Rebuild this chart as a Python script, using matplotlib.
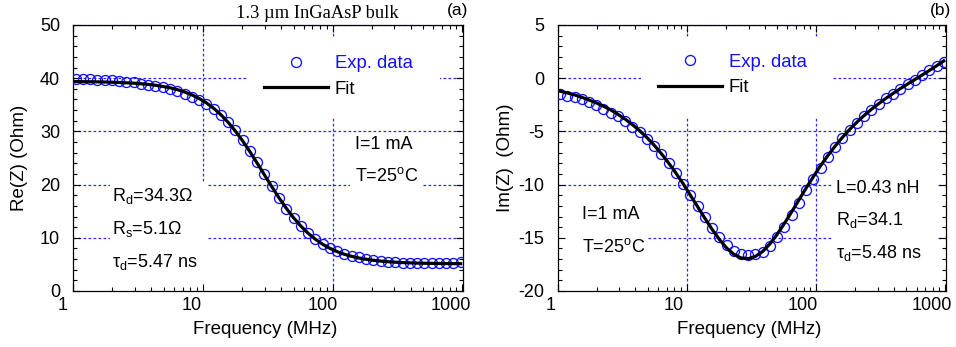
import matplotlib
matplotlib.use('Agg')
import matplotlib.pyplot as plt
from matplotlib.patches import Rectangle
from matplotlib.ticker import FixedLocator, LogLocator, MultipleLocator, NullFormatter, FixedFormatter
from matplotlib.transforms import ScaledTranslation

plt.rcParams['font.family'] = ['Liberation Sans', 'DejaVu Sans']
plt.rcParams['mathtext.fontset'] = 'custom'
plt.rcParams['mathtext.rm'] = 'Liberation Sans'
plt.rcParams['mathtext.it'] = 'Liberation Sans:italic'
plt.rcParams['mathtext.bf'] = 'Liberation Sans:bold'
plt.rcParams['axes.unicode_minus'] = False

# ---------------- data ----------------
freq = [1.04, 1.18, 1.35, 1.53, 1.74, 1.98, 2.26, 2.57, 2.92, 3.32, 3.78, 4.30,
        4.90, 5.57, 6.34, 7.21, 8.21, 9.34, 10.6, 12.1, 13.75, 15.65, 17.8, 20.26,
        23.05, 26.22, 29.84, 33.95, 38.63, 43.95, 50.01, 56.9, 64.74, 73.66, 83.81,
        95.36, 108.5, 123.5, 140.5, 159.8, 181.9, 206.9, 235.4, 267.9, 304.8, 346.8,
        394.6, 448.9, 510.8, 581.2, 661.3, 752.4, 856.1, 974.1]

re_exp = [39.8, 39.8, 39.8, 39.75, 39.7, 39.6, 39.5, 39.35, 39.2, 39.0, 38.8, 38.6,
          38.3, 38.0, 37.6, 37.1, 36.5, 35.9, 35.1, 34.2, 33.1, 31.8, 30.2, 28.4,
          26.3, 24.2, 22.0, 19.7, 17.5, 15.5, 13.7, 12.2, 10.9, 9.8, 8.9,
          8.1, 7.5, 7.0, 6.6, 6.3, 6.0, 5.8, 5.65, 5.5, 5.4, 5.35,
          5.3, 5.25, 5.25, 5.25, 5.25, 5.3, 5.35, 5.45]

re_fit = [39.36, 39.34, 39.33, 39.31, 39.28, 39.24, 39.19, 39.13, 39.06, 38.96, 38.83, 38.67,
          38.45, 38.19, 37.85, 37.42, 36.87, 36.19, 35.38, 34.34, 33.14, 31.70, 30.06, 28.20,
          26.18, 24.03, 21.82, 19.62, 17.51, 15.55, 13.77, 12.21, 10.86, 9.73, 8.79,
          8.02, 7.40, 6.90, 6.51, 6.20, 5.96, 5.77, 5.62, 5.50, 5.41, 5.34,
          5.29, 5.24, 5.21, 5.19, 5.17, 5.15, 5.14, 5.13]

im_exp = [-1.5, -1.65, -1.8, -2.0, -2.25, -2.55, -2.9, -3.25, -3.6, -4.05, -4.55, -5.1,
          -5.7, -6.4, -7.15, -8.0, -8.95, -9.95, -10.95, -12.05, -13.05, -14.05, -14.95, -15.65,
          -16.2, -16.5, -16.6, -16.55, -16.3, -15.75, -14.9, -13.95, -12.85, -11.7, -10.55,
          -9.45, -8.4, -7.4, -6.5, -5.65, -4.9, -4.2, -3.55, -2.95, -2.4, -1.9,
          -1.45, -1.0, -0.55, -0.15, 0.3, 0.75, 1.15, 1.55]

im_fit = [-1.22, -1.38, -1.57, -1.79, -2.04, -2.31, -2.63, -2.98, -3.39, -3.84, -4.36, -4.93,
          -5.58, -6.29, -7.09, -7.96, -8.90, -9.91, -10.97, -12.07, -13.15, -14.20, -15.14, -15.95,
          -16.54, -16.89, -16.96, -16.75, -16.28, -15.57, -14.67, -13.65, -12.56, -11.44, -10.32,
          -9.25, -8.22, -7.27, -6.38, -5.57, -4.82, -4.14, -3.51, -2.93, -2.40, -1.90,
          -1.43, -0.98, -0.55, -0.13, 0.29, 0.72, 1.16, 1.62]

x_ticks = [1, 10, 100, 1000]
x_ticklabels = ['1', '10', '100', '1000']
re_ticks = [0, 10, 20, 30, 40, 50]
im_ticks = [-20, -15, -10, -5, 0, 5]
re_grid = [10, 20, 30, 40, 50]
im_grid = [-15, -10, -5, 0, 5]
x_grid = [10, 100]

BLUE = '#1010ff'
GRIDC = '#2a2aff'
DASH = (0, (2.2, 1.8))

fig = plt.figure(figsize=(9.56, 3.47), dpi=100)
axa = fig.add_axes([0.0767, 0.1614, 0.4076, 0.7666])
axb = fig.add_axes([0.5834, 0.1614, 0.4062, 0.7666])


def style_axis(ax, yticks, yminor, ylim, xshifts_px):
    ax.set_xscale('log')
    ax.set_xlim(1, 1015)
    ax.set_ylim(*ylim)
    ax.xaxis.set_major_locator(FixedLocator(x_ticks))
    ax.xaxis.set_major_formatter(FixedFormatter(x_ticklabels))
    ax.xaxis.set_minor_locator(LogLocator(base=10, subs=[2, 3, 4, 5, 6, 7, 8, 9], numticks=20))
    ax.xaxis.set_minor_formatter(NullFormatter())
    ax.yaxis.set_major_locator(FixedLocator(yticks))
    ax.yaxis.set_minor_locator(MultipleLocator(yminor))
    ax.tick_params(which='both', direction='in', top=True, right=True, width=0.8,
                   labelsize=13, colors='black')
    ax.tick_params(which='major', length=5)
    ax.tick_params(which='minor', length=3)
    ax.tick_params(axis='x', pad=4.5)
    ax.tick_params(axis='y', pad=9.5)
    for sp in ax.spines.values():
        sp.set_linewidth(0.9)
    for lab, sh in zip(ax.get_xticklabels(), xshifts_px):
        offset = ScaledTranslation(-sh / 100.0, 0, fig.dpi_scale_trans)
        lab.set_transform(lab.get_transform() + offset)


def grid(ax, yvals):
    for v in yvals:
        ax.axhline(v, color=GRIDC, lw=0.9, ls=DASH, zorder=1)
    for v in x_grid:
        ax.axvline(v, color=GRIDC, lw=0.9, ls=DASH, zorder=1)


def mask(ax, x0, y0, x1, y1):
    ax.add_patch(Rectangle((x0, y0), x1 - x0, y1 - y0, transform=ax.transAxes,
                           facecolor='white', edgecolor='none', zorder=1.5))


LEG_KW = dict(loc='center left', frameon=False, borderpad=0, borderaxespad=0,
              handlelength=3.46, handletextpad=0.38, labelspacing=0.45,
              fontsize=13.3, numpoints=1)
ANN = 13

# ---------------- panel (a) ----------------
style_axis(axa, re_ticks, 2, (0, 50), [11, 11, 10, 11])
grid(axa, re_grid)
mask(axa, 0.446, 0.65, 0.941, 0.955)
mask(axa, 0.71, 0.38, 0.895, 0.586)
mask(axa, 0.094, 0.0, 0.346, 0.41)
axa.plot(freq, re_exp, ls='none', marker='o', ms=7.2, mfc='none', mec=BLUE, mew=0.95,
         zorder=3, label='Exp. data')
axa.plot(freq, re_fit, color='black', lw=2.3, zorder=4, label='Fit')
lega = axa.legend(bbox_to_anchor=(0.489, 0.806), **LEG_KW)
lega.get_texts()[0].set_color(BLUE)

axa.text(0.723, 0.549, 'I=1 mA', transform=axa.transAxes, fontsize=ANN, va='center', zorder=5)
axa.text(0.723, 0.432, 'T=25$^{\\rm o}$C', transform=axa.transAxes, fontsize=ANN, va='center', zorder=5)
axa.text(0.099, 0.357, 'R$_{\\rm d}$=34.3\u03a9', transform=axa.transAxes, fontsize=ANN, va='center', zorder=5)
axa.text(0.099, 0.233, 'R$_{\\rm s}$=5.1\u03a9', transform=axa.transAxes, fontsize=ANN, va='center', zorder=5)
axa.text(0.099, 0.109, '\u03c4$_{\\rm d}$=5.47 ns', transform=axa.transAxes, fontsize=ANN, va='center', zorder=5)

# ---------------- panel (b) ----------------
style_axis(axb, im_ticks, 1, (-20, 5), [7.5, 13.7, 13.7, 13.7])
grid(axb, im_grid)
mask(axb, 0.2145, 0.654, 0.709, 0.951)
mask(axb, 0.0, 0.0, 0.2325, 0.38)
mask(axb, 0.709, 0.0, 0.979, 0.417)
axb.plot(freq, im_exp, ls='none', marker='o', ms=7.2, mfc='none', mec=BLUE, mew=0.95,
         zorder=3, label='Exp. data')
axb.plot(freq, im_fit, color='black', lw=2.3, zorder=4, label='Fit')
legb = axb.legend(bbox_to_anchor=(0.2575, 0.812), **LEG_KW)
legb.get_texts()[0].set_color(BLUE)

axb.text(0.0626, 0.286, 'I=1 mA', transform=axb.transAxes, fontsize=ANN, va='center', zorder=5)
axb.text(0.0626, 0.167, 'T=25$^{\\rm o}$C', transform=axb.transAxes, fontsize=ANN, va='center', zorder=5)
axb.text(0.717, 0.386, 'L=0.43 nH', transform=axb.transAxes, fontsize=ANN, va='center', zorder=5)
axb.text(0.717, 0.267, 'R$_{\\rm d}$=34.1', transform=axb.transAxes, fontsize=ANN, va='center', zorder=5)
axb.text(0.717, 0.143, '\u03c4$_{\\rm d}$=5.48 ns', transform=axb.transAxes, fontsize=ANN, va='center', zorder=5)

# ---------------- figure texts ----------------
fig.text(0.0209, 0.545, 'Re(Z) (Ohm)', rotation=90, ha='center', va='center', fontsize=13.5)
fig.text(0.529, 0.545, 'Im(Z)  (Ohm)', rotation=90, ha='center', va='center', fontsize=13.5)
fig.text(0.277, 0.049, 'Frequency (MHz)', ha='center', va='center', fontsize=13.5)
fig.text(0.7835, 0.049, 'Frequency (MHz)', ha='center', va='center', fontsize=13.5)
fig.text(0.332, 0.96, '1.3 \u00b5m InGaAsP bulk', ha='center', va='center', fontsize=13.3,
         family=['Liberation Serif', 'DejaVu Serif'])
fig.text(0.479, 0.971, '(a)', ha='center', va='center', fontsize=12.5)
fig.text(0.984, 0.971, '(b)', ha='center', va='center', fontsize=12.5)

fig.savefig('out.png', dpi=100)
